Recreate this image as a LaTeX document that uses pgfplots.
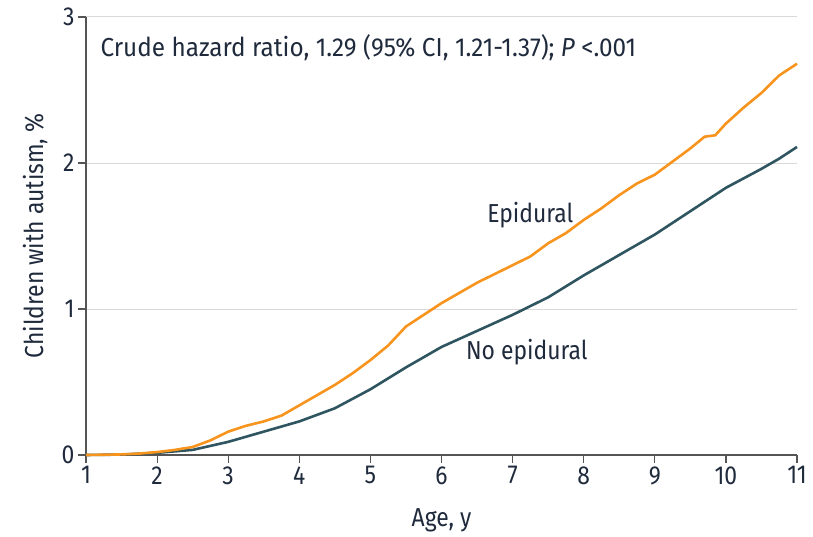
\documentclass[border=0pt]{standalone}
\usepackage{pgfplots}
\pgfplotsset{compat=1.18}
\usepackage{fontspec}
\setmainfont{Fira Sans}[FakeStretch=0.88]
\newfontfamily\annfont{Fira Sans}[FakeStretch=0.935]
\definecolor{epi}{HTML}{F7941D}
\definecolor{noepi}{HTML}{2E5560}
\definecolor{txt}{HTML}{1F2A3C}
\definecolor{axisgray}{HTML}{555555}
\definecolor{gridgray}{HTML}{D9D9D9}
\begin{document}
\begin{tikzpicture}
\begin{axis}[
  at={(0,0)}, anchor=south west,
  scale only axis, width=711pt, height=438pt,
  xmin=1, xmax=11, ymin=0, ymax=3,
  xtick={1,2,...,11}, ytick={0,1,2,3},
  axis x line*=bottom, axis y line*=left,
  axis line style={axisgray, line width=1.2pt, -},
  tick style={axisgray, line width=1.2pt},
  tick align=outside, major tick length=8pt,
  ymajorgrids, grid style={gridgray, line width=1pt},
  font=\fontsize{26}{30}\selectfont\color{txt},
  tick label style={font=\fontsize{26}{30}\selectfont\color{txt}},
  /pgf/number format/assume math mode=true,
  xlabel={Age, y}, ylabel={Children with autism, \%},
  xlabel style={at={(axis description cs:0.5,-0.148)}, anchor=center},
  ylabel style={at={(axis description cs:-0.0717,0.5)}, anchor=center},
  clip=false,
]
\addplot[noepi, line width=2.6pt] coordinates {
(1.0,0) (1.5,0.003) (2.0,0.015) (2.5,0.035) (3.0,0.09) (3.5,0.16) (4.0,0.23)
(4.5,0.32) (5.0,0.45) (5.5,0.60) (6.0,0.74) (6.5,0.85) (7.0,0.96)
(7.5,1.08) (8.0,1.23) (8.5,1.37) (9.0,1.51) (9.25,1.59) (9.5,1.67) (9.75,1.75)
(10.0,1.83) (10.5,1.96) (10.75,2.03) (11.0,2.11)
};
\addplot[epi, line width=2.6pt] coordinates {
(1.0,0) (1.5,0.004) (1.75,0.01) (2.0,0.02) (2.25,0.035) (2.5,0.055) (2.75,0.10)
(3.0,0.16) (3.25,0.20) (3.5,0.23) (3.75,0.27) (4.0,0.34) (4.25,0.41) (4.5,0.48)
(4.75,0.56) (5.0,0.65) (5.25,0.75) (5.5,0.88) (5.75,0.96) (6.0,1.04) (6.25,1.11)
(6.5,1.18) (6.75,1.24) (7.0,1.30) (7.25,1.36) (7.5,1.45) (7.75,1.52) (8.0,1.61)
(8.25,1.69) (8.5,1.78) (8.75,1.86) (9.0,1.92) (9.25,2.01) (9.5,2.10) (9.7,2.18)
(9.85,2.19) (10.0,2.27) (10.25,2.38) (10.5,2.48) (10.75,2.60) (11.0,2.68)
};
\node[anchor=west, text=txt, font=\fontsize{26}{30}\annfont] at (axis cs:1.155,2.79) {Crude hazard ratio, 1.29 (95\% CI, 1.21-1.37); \textit{P} <.001};
\node[text=txt] at (axis cs:7.25,1.64) {Epidural};
\node[text=txt] at (axis cs:7.2,0.705) {No epidural};
\end{axis}
\pgfresetboundingbox
\path[use as bounding box] (-86pt,-81pt) rectangle (727pt,455pt);
\end{tikzpicture}
\end{document}
